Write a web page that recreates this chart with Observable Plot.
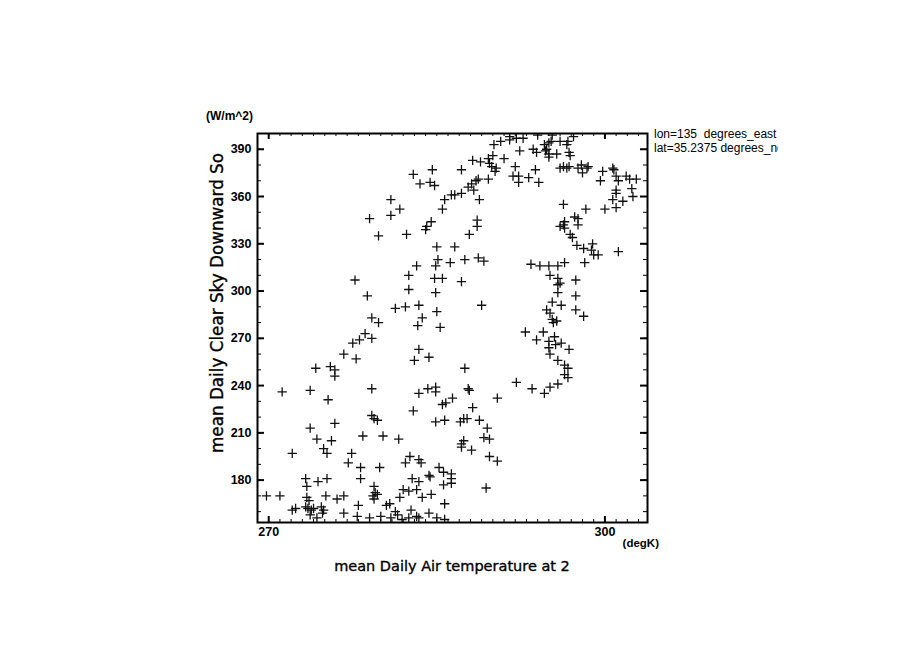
<!DOCTYPE html>
<html><head><meta charset="utf-8">
<script src="https://cdn.jsdelivr.net/npm/d3@7"></script>
<script src="https://cdn.jsdelivr.net/npm/@observablehq/plot@0.6"></script>
<style>
html,body{margin:0;padding:0;background:#fff;}
#chart{position:relative;width:904px;height:654px;overflow:hidden;background:#fff;}
</style></head><body><div id="chart"></div>
<script>
// mean Daily Air temperature at 2 m (degK)
const airTemp = [
282.9,284.6,283.5,284.4,284.8,286.3,285.7,280.9,285.5,281.7,279.0,280.9,284.5,284.1,284.0,279.8,282.3,285.0,286.6,285.1,
284.9,283.2,286.2,282.5,284.8,285.5,277.7,282.5,284.9,278.8,281.3,282.2,283.4,285.0,283.7,279.2,279.8,283.3,285.3,291.5,
292.1,292.7,294.0,295.3,297.2,290.1,290.7,291.5,294.6,295.0,295.2,296.0,296.6,296.7,292.4,293.6,293.9,294.7,294.8,295.0,
295.7,296.8,296.9,295.0,288.2,288.9,289.6,290.0,291.0,289.7,289.9,290.3,287.2,292.0,293.8,296.0,296.3,296.6,296.8,297.6,
297.9,298.0,298.4,298.5,299.8,300.7,300.8,290.2,291.8,292.3,293.2,289.6,292.3,294.1,288.7,288.5,287.8,288.3,288.1,287.2,
286.6,288.8,299.6,301.0,301.2,301.9,302.2,302.8,302.4,301.0,301.0,302.5,300.7,301.6,301.0,300.0,296.3,298.3,288.6,288.6,
287.9,297.3,297.6,296.4,297.6,296.0,296.4,296.3,296.9,297.1,297.5,298.1,298.9,298.8,299.0,299.4,301.2,287.5,288.7,289.2,
298.2,293.4,294.2,295.0,295.8,296.4,295.1,295.8,297.4,287.2,296.0,295.8,295.8,297.4,289.0,295.3,296.1,294.8,297.4,295.1,
298.1,295.3,295.7,295.4,278.6,278.1,277.5,279.2,276.7,277.8,283.4,283.0,284.3,274.2,275.5,275.9,275.9,271.2,273.7,275.3,
279.2,283.4,284.2,284.9,284.9,282.9,279.2,279.4,279.7,275.9,273.7,284.9,285.7,285.5,285.8,286.4,278.4,280.2,281.6,274.3,
275.6,274.9,275.2,272.1,277.4,277.1,278.2,279.9,282.6,282.2,283.4,283.6,285.2,284.3,284.4,285.6,286.3,282.8,283.4,273.3,
274.4,275.2,278.2,279.4,273.4,285.6,286.3,269.8,271.0,273.4,275.1,276.1,276.7,279.3,279.5,279.7,279.4,281.7,282.0,282.5,
283.2,283.7,284.5,273.6,285.7,272.1,272.4,273.3,273.5,273.8,274.0,273.7,274.7,274.9,274.8,274.3,276.7,278.0,280.5,280.8,
281.3,281.5,282.7,284.3,277.9,279.0,280.0,280.9,281.9,282.5,283.2,283.4,285.0,285.7,292.9,294.5,293.9,295.0,295.5,295.6,
296.1,295.0,296.8,295.1,295.8,296.4,296.7,296.4,296.7,295.8,292.1,293.5,294.6,295.1,287.5,287.8,287.9,290.4,288.2,287.1,
287.4,287.7,288.8,289.5,289.2,289.7,287.4,287.2,287.2,288.1,289.7,290.4,286.3,289.4
];
// mean Daily Clear Sky Downward Solar (W/m^2)
const clearSkySW = [
374,377,368,369,367,361,358,358,352,352,346,348,344,341,339,335,336,328,328,320,
316,316,318,310,308,308,307,301,299,297,289,290,291,287,283,283,280,278,277,398,
397,397,399,399,398,393,395,396,393,394,395,395,393,395,389,390,388,389,390,387,
387,388,386,385,383,382,384,386,384,381,379,378,377,379,377,378,379,378,379,378,
380,375,378,379,376,378,377,376,373,373,372,371,369,369,371,370,366,364,368,362,
361,358,370,373,370,373,371,371,365,364,362,360,358,357,353,352,355,352,345,341,
336,347,346,344,342,341,340,342,336,334,329,327,330,326,323,323,325,320,321,319,
318,317,316,316,316,318,310,308,307,306,305,304,299,297,291,293,291,288,288,286,
284,282,281,280,273,269,267,270,260,257,263,256,258,251,252,250,246,236,237,231,
238,235,238,239,236,224,221,219,218,216,213,217,218,228,229,232,208,208,206,206,
205,200,197,197,197,191,188,188,195,191,193,191,188,183,182,185,184,181,179,181,
179,181,181,176,176,177,178,170,170,169,170,168,170,170,172,171,168,169,174,173,
174,169,171,167,165,161,162,163,162,161,162,158,163,161,159,156,159,164,164,165,
160,158,161,159,157,156,157,156,155,156,157,156,156,155,274,274,269,268,271,266,
267,264,263,260,256,253,251,247,245,241,242,238,235,239,251,238,237,232,226,217,
219,219,218,213,207,206,205,203,201,199,195,192,181,175
];
const xTickLabels = [270, 300];
const yTickLabels = [180, 210, 240, 270, 300, 330, 360, 390];
const xMinorTicks = d3.range(269, 304, 1);
const yMinorTicks = d3.range(160, 400, 10);
const xDomain = [269, 303.8];
const yDomain = [153.1, 400];
const xUnits = "(degK)";
const yUnits = "(W/m^2)";
const xTitle = "mean Daily Air temperature at 2";
const yTitle = "mean Daily Clear Sky Downward So";
const headerLines = ["lon=135  degrees_east", "lat=35.2375 degrees_north"];

const points = airTemp.map((t, i) => ({t, s: clearSkySW[i]}));

const W = 904, H = 654, mL = 257, mR = 257, mT = 133, mB = 132;
const fw = W - mL - mR, fh = H - mT - mB;
const font = "'Liberation Sans', Arial, Helvetica, sans-serif";
const titleFont = "'DejaVu Sans', 'Liberation Sans', sans-serif";

const chart = Plot.plot({
  width: W, height: H,
  marginLeft: mL, marginRight: mR, marginTop: mT, marginBottom: mB,
  style: {fontFamily: font, background: "white", color: "black", overflow: "visible"},
  x: {domain: xDomain},
  y: {domain: yDomain},
  marks: [
    Plot.dot(points, {x: "t", y: "s", symbol: "plus", r: 3.1, stroke: "#111", fill: "none", strokeWidth: 1.3, clip: true}),
    Plot.ruleX(xMinorTicks, {insetTop: fh - 3, stroke: "black", strokeWidth: 1}),
    Plot.ruleX(xMinorTicks, {insetBottom: fh - 3, stroke: "black", strokeWidth: 1}),
    Plot.ruleX(xTickLabels, {insetTop: fh - 6, stroke: "black", strokeWidth: 2}),
    Plot.ruleX(xTickLabels, {insetBottom: fh - 6, stroke: "black", strokeWidth: 2}),
    Plot.ruleY(yMinorTicks, {insetRight: fw - 4, stroke: "black", strokeWidth: 1}),
    Plot.ruleY(yMinorTicks, {insetLeft: fw - 4, stroke: "black", strokeWidth: 1}),
    Plot.ruleY(yTickLabels, {insetRight: fw - 7, stroke: "black", strokeWidth: 2}),
    Plot.ruleY(yTickLabels, {insetLeft: fw - 7, stroke: "black", strokeWidth: 2}),
    Plot.frame({stroke: "black", strokeWidth: 2}),
    Plot.axisX({ticks: xTickLabels, tickSize: 0, tickPadding: 5, fontSize: 12.5, fontWeight: "bold", label: null}),
    Plot.axisY({ticks: yTickLabels, tickSize: 0, tickPadding: 6, fontSize: 12.5, fontWeight: "bold", label: null})
  ]
});
document.getElementById("chart").appendChild(chart);

const svg = d3.select(chart);
svg.append("text").attr("x", 253).attr("y", 120).attr("text-anchor", "end")
  .attr("font-family", font).attr("font-weight", "bold").attr("font-size", 12).attr("fill", "black").text(yUnits);
svg.append("text").attr("x", 659).attr("y", 547).attr("text-anchor", "end")
  .attr("font-family", font).attr("font-weight", "bold").attr("font-size", 11.5).attr("fill", "black").text(xUnits);
svg.append("text").attr("x", 452).attr("y", 571).attr("text-anchor", "middle")
  .attr("font-family", titleFont).attr("font-size", 14.5).attr("fill", "black")
  .attr("stroke", "black").attr("stroke-width", 0.35).text(xTitle);
svg.append("text").attr("transform", "translate(223,303) rotate(-90)").attr("text-anchor", "middle")
  .attr("font-family", titleFont).attr("font-size", 16.8).attr("fill", "black")
  .attr("stroke", "black").attr("stroke-width", 0.35).text(yTitle);

const defs = svg.append("defs");
defs.append("clipPath").attr("id", "hdrclip").append("rect").attr("x", 600).attr("y", 100).attr("width", 178).attr("height", 70);
const hdr = svg.append("g").attr("clip-path", "url(#hdrclip)");
headerLines.forEach((s, i) => {
  hdr.append("text").attr("x", 654).attr("y", 138 + i * 14).attr("text-anchor", "start")
    .attr("font-family", font).attr("font-size", 12).attr("fill", "black")
    .style("white-space", "pre").text(s);
});
</script>
</body></html>
